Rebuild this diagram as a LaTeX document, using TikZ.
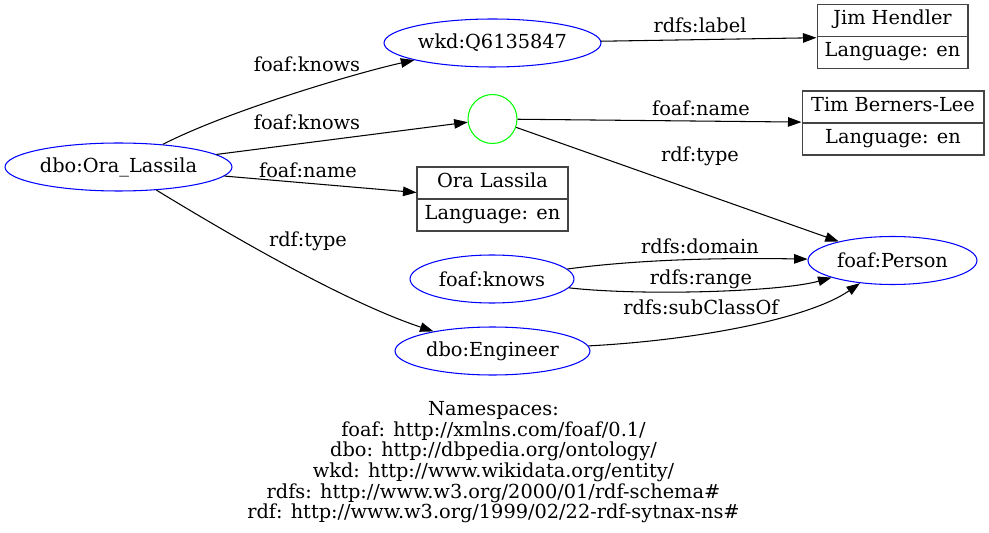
\documentclass[tikz,border=0pt]{standalone}
\usepackage{fontspec}
\setmainfont{DejaVu Serif}
\usetikzlibrary{arrows.meta, shapes.geometric, shapes.multipart}
\definecolor{resblue}{HTML}{0000FF}
\definecolor{bnodegreen}{HTML}{00FF00}
\definecolor{litgray}{HTML}{444444}

\begin{document}
\begin{tikzpicture}[
      x=0.02cm, y=-0.02cm,
      every node/.style={font=\fontsize{11}{12}\selectfont},
      res/.style={draw=resblue, ellipse, inner sep=0pt, minimum height=0.96cm},
      bnode/.style={draw=bnodegreen, circle, inner sep=0pt, minimum size=0.98cm},
      lit/.style={draw=litgray, rectangle split, rectangle split parts=2,
                  inner xsep=2pt, inner ysep=2.8pt, align=center},
      lbl/.style={inner sep=0pt, anchor=base, yshift=-3pt},
      >={Triangle[length=0.27cm, width=0.19cm]},
      line width=0.6pt,
    ]
    \useasboundingbox (0,0) rectangle (989,533);

    \node[res, minimum width=4.54cm] (ora) at (118.5,167) {dbo:Ora\_Lassila};
    \node[res, minimum width=4.34cm] (wkd) at (492.5,43) {wkd:Q6135847};
    \node[bnode] (blank) at (492.5,119) {};
    \node[res, minimum width=3.28cm] (knows) at (492,279) {foaf:knows};
    \node[res, minimum width=3.90cm] (eng) at (492.5,351) {dbo:Engineer};
    \node[res, minimum width=3.38cm] (person) at (892.5,260.5) {foaf:Person};

    \node[lit, minimum width=3.02cm] (litora) at (492.5,199)
      {\strut Ora Lassila \nodepart{two} \strut Language: en};
    \node[lit, minimum width=3.02cm] (litjim) at (892.5,36.5)
      {\strut Jim Hendler \nodepart{two} \strut Language: en};
    \node[lit, minimum width=3.64cm] (littim) at (893,123)
      {\strut Tim Berners-Lee \nodepart{two} \strut Language: en};

    \draw[->] (ora) .. controls (230,110) and (360,72) .. (wkd);
    \draw[->] (ora) -- (blank);
    \draw[->] (ora) -- (litora);
    \draw[->] (ora) .. controls (230,235) and (345,302) .. (eng);
    \draw[->] (wkd) -- (litjim);
    \draw[->] (blank) -- (littim);
    \draw[->] (blank) -- (person);
    \draw[->] (knows) .. controls (650,258) and (740,258) .. (person);
    \draw[->] (knows) .. controls (640,296) and (780,292) .. (person);
    \draw[->] (eng) .. controls (700,340) and (810,318) .. (person);

    \node[lbl] (lknowsa) at (307,66) {foaf:knows};
    \node[lbl] (lknowsb) at (307,124) {foaf:knows};
    \node[lbl] (lnameora) at (308,172) {foaf:name};
    \node[lbl] (ltypeora) at (308,241) {rdf:type};
    \node[lbl] (llabel) at (700,27) {rdfs:label};
    \node[lbl] (lnametim) at (701,110) {foaf:name};
    \node[lbl] (ltypeblank) at (700,156) {rdf:type};
    \node[lbl] (ldomain) at (700,248) {rdfs:domain};
    \node[lbl] (lrange) at (701,279) {rdfs:range};
    \node[lbl] (lsubclass) at (701,309) {rdfs:subClassOf};

    \node[align=center, font=\fontsize{11}{9.45}\selectfont] (ns) at (493.5,462.5)
      {Namespaces:\\
       foaf: http://xmlns.com/foaf/0.1/\\
       dbo: http://dbpedia.org/ontology/\\
       wkd: http://www.wikidata.org/entity/\\
       rdfs: http://www.w3.org/2000/01/rdf-schema\#\\
       rdf: http://www.w3.org/1999/02/22-rdf-sytnax-ns\#};
  \end{tikzpicture}
\end{document}
